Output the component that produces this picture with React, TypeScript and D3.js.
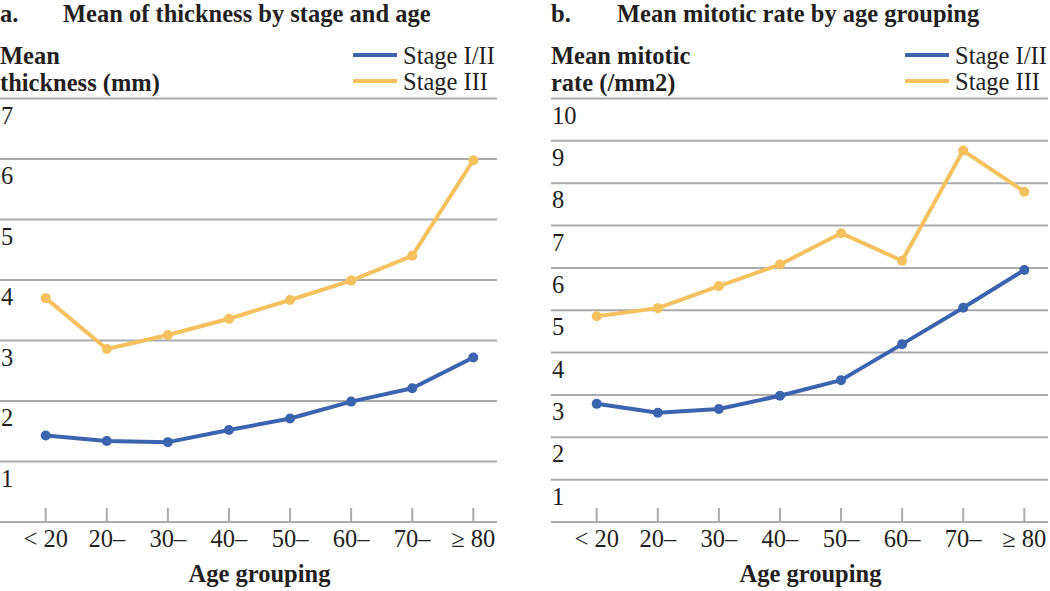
import React from "react";
import * as d3 from "d3";

const ageGroups = ["< 20", "20–", "30–", "40–", "50–", "60–", "70–", "≥ 80"];

const thicknessStage12 = [1.43, 1.34, 1.32, 1.52, 1.71, 1.99, 2.21, 2.72];
const thicknessStage3 = [3.7, 2.86, 3.09, 3.36, 3.67, 3.99, 4.4, 5.98];
const thicknessTicks = [1, 2, 3, 4, 5, 6, 7];

const mitoticStage12 = [2.79, 2.58, 2.67, 2.98, 3.35, 4.2, 5.06, 5.95];
const mitoticStage3 = [4.86, 5.05, 5.57, 6.08, 6.82, 6.17, 8.77, 7.8];
const mitoticTicks = [1, 2, 3, 4, 5, 6, 7, 8, 9, 10];

const seriesNames = ["Stage I/II", "Stage III"];
const seriesColors = ["#3b64ae", "#f4c15e"];

const FONT = "'Liberation Serif', 'Times New Roman', serif";
const GRID = "#ababab";
const FS = 24.5;

type PanelProps = {
  x0: number;
  letter: string;
  title: string;
  titleGap: number;
  yTitle: string[];
  ticks: number[];
  yMax: number;
  s1: number[];
  s2: number[];
  legendX: number;
};

function Panel(p: PanelProps) {
  const width = 497;
  const yBottom = 522;
  const yTop = 98.5;
  const x = d3.scalePoint<string>().domain(ageGroups).range([45.7, 473.3]);
  const y = d3.scaleLinear().domain([0, p.yMax]).range([yBottom, yTop]);
  const line = d3
    .line<number>()
    .x((_, i) => x(ageGroups[i]) as number)
    .y((d) => y(d));
  const series = [p.s1, p.s2];
  const xc = ((x(ageGroups[0]) as number) + (x(ageGroups[ageGroups.length - 1]) as number)) / 2;
  return (
    <g transform={`translate(${p.x0},0)`} fontFamily={FONT} fill="#231f20">
      <text x={0} y={22} fontSize={FS} fontWeight="bold">
        {p.letter}
      </text>
      <text x={p.titleGap} y={22} fontSize={FS} fontWeight="bold">
        {p.title}
      </text>
      {p.yTitle.map((t, i) => (
        <text key={i} x={0} y={63.5 + i * 27} fontSize={FS} fontWeight="bold">
          {t}
        </text>
      ))}
      {seriesNames.map((n, i) => (
        <g key={n}>
          <line
            x1={p.legendX}
            x2={p.legendX + 44}
            y1={55 + i * 26}
            y2={55 + i * 26}
            stroke={seriesColors[i]}
            strokeWidth={4}
          />
          <text x={p.legendX + 50} y={63.5 + i * 26} fontSize={FS}>
            {n}
          </text>
        </g>
      ))}
      {[0, ...p.ticks].map((t) => (
        <line
          key={t}
          x1={0}
          x2={width}
          y1={y(t)}
          y2={y(t)}
          stroke={GRID}
          strokeWidth={2}
        />
      ))}
      {p.ticks.map((t) => (
        <text key={t} x={1} y={y(t) + 25} fontSize={FS}>
          {t}
        </text>
      ))}
      {ageGroups.map((g) => (
        <g key={g}>
          <line
            x1={x(g)}
            x2={x(g)}
            y1={yBottom - 14}
            y2={yBottom}
            stroke={GRID}
            strokeWidth={2}
          />
          <text x={x(g)} y={547} fontSize={FS} textAnchor="middle">
            {g}
          </text>
        </g>
      ))}
      <text x={xc} y={582} fontSize={FS} fontWeight="bold" textAnchor="middle">
        Age grouping
      </text>
      {series.map((s, i) => (
        <g key={i}>
          <path d={line(s) || ""} fill="none" stroke={seriesColors[i]} strokeWidth={4} strokeLinejoin="round" />
          {s.map((v, j) => (
            <circle key={j} cx={x(ageGroups[j])} cy={y(v)} r={5} fill={seriesColors[i]} />
          ))}
        </g>
      ))}
    </g>
  );
}

export default function App() {
  return (
    <svg
      width={1050}
      height={591}
      style={{ position: "absolute", left: 0, top: 0, display: "block", background: "#fff" }}
    >
      <rect width={1050} height={591} fill="#fff" />
      <Panel
        x0={0}
        letter="a."
        title="Mean of thickness by stage and age"
        titleGap={63}
        yTitle={["Mean", "thickness (mm)"]}
        ticks={thicknessTicks}
        yMax={7}
        s1={thicknessStage12}
        s2={thicknessStage3}
        legendX={353}
      />
      <Panel
        x0={551}
        letter="b."
        title="Mean mitotic rate by age grouping"
        titleGap={66}
        yTitle={["Mean mitotic", "rate (/mm2)"]}
        ticks={mitoticTicks}
        yMax={10}
        s1={mitoticStage12}
        s2={mitoticStage3}
        legendX={354}
      />
    </svg>
  );
}
